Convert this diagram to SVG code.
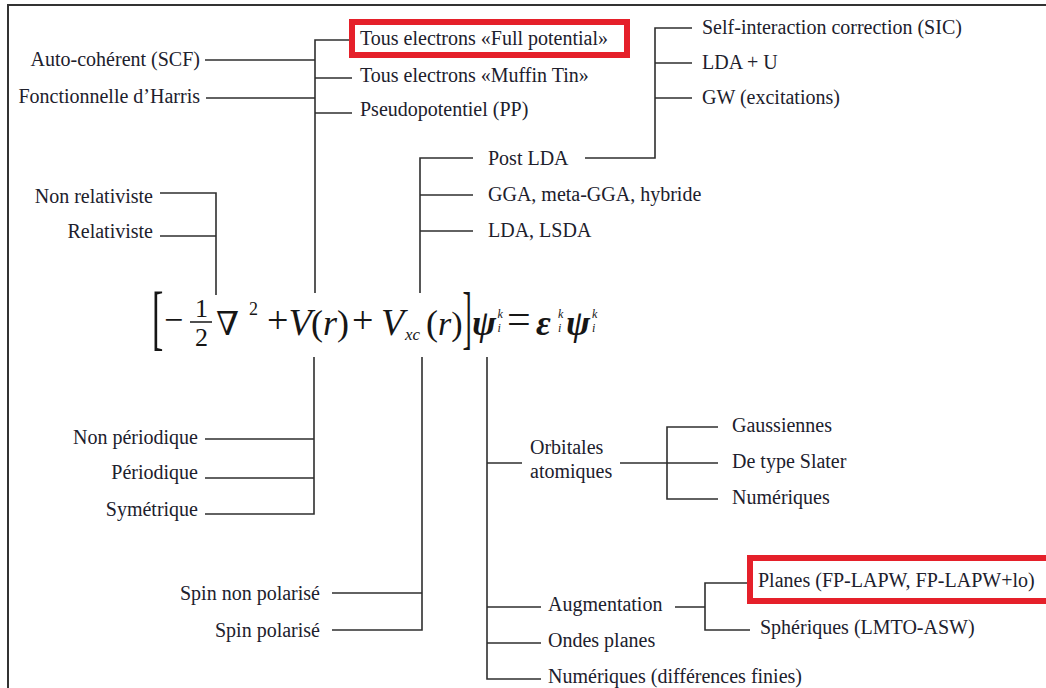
<svg xmlns="http://www.w3.org/2000/svg" width="1046" height="688" viewBox="0 0 1046 688">
<style>
.t{font-family:"Liberation Serif","Times New Roman",serif;font-size:20px;fill:#20202c}
.r{text-anchor:end}
.c{stroke:#2f2f2f;stroke-width:1.6;fill:none}
.hl{fill:none;stroke:#e5202a;stroke-width:6}
.eq{font-family:"Liberation Serif","DejaVu Serif",serif;fill:#161616}
</style>
<rect width="1046" height="688" fill="#ffffff"/>
<path d="M8,688 V5 H1046" fill="none" stroke="#333" stroke-width="2"/>
<g id="connectors" class="c">
<path d="M205,60 H315 M206,98 H315 M315,293 V40 H350 M315,78 H352 M315,113 H352"/>
<path d="M585,158 H655 V28 H692 M655,63 H692 M655,98 H692"/>
<path d="M420,293 V158 H473 M420,195 H473 M420,231 H473"/>
<path d="M160,193 H216 V295 M160,236 H216"/>
<path d="M314,357 V514 H205 M205,439 H314 M205,478 H314"/>
<path d="M422,357 V630 H332 M332,593 H422"/>
<path d="M487,357 V679 H541 M487,463 H522 M487,607 H541 M487,643 H541"/>
<path d="M620,463 H718 M718,427 H667 V499 H718"/>
<path d="M675,607 H705 M748,583 H705 V630 H750"/>
</g>
<g id="equation" class="eq">
<text transform="translate(152,341) scale(1,2.1)" font-size="34">[</text>
<line x1="190" y1="322" x2="212" y2="322" stroke="#161616" stroke-width="1.5"/>
<text transform="translate(462.5,341) scale(1,2.5)" font-size="28">]</text>
<text><tspan x="164" y="331" font-size="34">−</tspan><tspan x="195" y="317" font-size="26">1</tspan><tspan x="195" y="346" font-size="26">2</tspan><tspan x="216" y="335" font-size="33">∇</tspan><tspan x="249" y="315" font-size="18">2</tspan><tspan x="267" y="333" font-size="38">+</tspan><tspan x="288.5" y="335" font-size="38" font-style="italic">V</tspan><tspan x="311" y="335" font-size="36">(</tspan><tspan x="323" y="335" font-size="36" font-style="italic">r</tspan><tspan x="337" y="335" font-size="36">)</tspan><tspan x="352" y="333" font-size="38">+</tspan><tspan x="381" y="335" font-size="38" font-style="italic">V</tspan><tspan x="405" y="340" font-size="17" font-style="italic">xc</tspan><tspan x="426" y="335" font-size="36">(</tspan><tspan x="438" y="335" font-size="34" font-style="italic">r</tspan><tspan x="451.3" y="335" font-size="34">)</tspan><tspan x="472" y="335" font-size="36" font-style="italic" font-weight="bold">ψ</tspan><tspan x="497.5" y="318" font-size="12" font-style="italic">k</tspan><tspan x="497.5" y="332" font-size="12" font-style="italic">i</tspan><tspan x="507" y="333" font-size="42">=</tspan><tspan x="536" y="335" font-size="36" font-style="italic" font-weight="bold">ε</tspan><tspan x="558" y="318" font-size="12" font-style="italic">k</tspan><tspan x="558" y="332" font-size="12" font-style="italic">i</tspan><tspan x="566" y="335" font-size="36" font-style="italic" font-weight="bold">ψ</tspan><tspan x="592" y="318" font-size="12" font-style="italic">k</tspan><tspan x="592" y="332" font-size="12" font-style="italic">i</tspan></text>
</g>
<g id="n-scf"><text class="t r" x="200" y="66">Auto-cohérent (SCF)</text></g>
<g id="n-harris"><text class="t r" x="200" y="103">Fonctionnelle d’Harris</text></g>
<g id="n-fp"><rect class="hl" x="352" y="22" width="275" height="33"/><text class="t" x="360" y="45">Tous electrons «Full potential»</text></g>
<g id="n-mt"><text class="t" x="360" y="82">Tous electrons «Muffin Tin»</text></g>
<g id="n-pp"><text class="t" x="360" y="116">Pseudopotentiel (PP)</text></g>
<g id="n-sic"><text class="t" x="702" y="34">Self-interaction correction (SIC)</text></g>
<g id="n-ldau"><text class="t" x="702" y="69">LDA + U</text></g>
<g id="n-gw"><text class="t" x="702" y="104">GW (excitations)</text></g>
<g id="n-postlda"><text class="t" x="488" y="165">Post LDA</text></g>
<g id="n-gga"><text class="t" x="488" y="201">GGA, meta-GGA, hybride</text></g>
<g id="n-lda"><text class="t" x="488" y="237">LDA, LSDA</text></g>
<g id="n-nonrel"><text class="t r" x="153" y="203">Non relativiste</text></g>
<g id="n-rel"><text class="t r" x="153" y="238">Relativiste</text></g>
<g id="n-nonper"><text class="t r" x="198" y="444">Non périodique</text></g>
<g id="n-per"><text class="t r" x="198" y="479">Périodique</text></g>
<g id="n-sym"><text class="t r" x="198" y="516">Symétrique</text></g>
<g id="n-spinnp"><text class="t r" x="320" y="600">Spin non polarisé</text></g>
<g id="n-spinp"><text class="t r" x="320" y="637">Spin polarisé</text></g>
<g id="n-orb"><text class="t" x="530" y="454">Orbitales</text><text class="t" x="530" y="478">atomiques</text></g>
<g id="n-gauss"><text class="t" x="732" y="432">Gaussiennes</text></g>
<g id="n-slater"><text class="t" x="732" y="468">De type Slater</text></g>
<g id="n-num1"><text class="t" x="732" y="504">Numériques</text></g>
<g id="n-aug"><text class="t" x="548" y="611">Augmentation</text></g>
<g id="n-ondes"><text class="t" x="548" y="647">Ondes planes</text></g>
<g id="n-num2"><text class="t" x="548" y="683">Numériques (différences finies)</text></g>
<g id="n-planes"><rect class="hl" x="750" y="558" width="300" height="43"/><text class="t" x="758" y="587">Planes (FP-LAPW, FP-LAPW+lo)</text></g>
<g id="n-spher"><text class="t" x="760" y="634">Sphériques (LMTO-ASW)</text></g>
</svg>
